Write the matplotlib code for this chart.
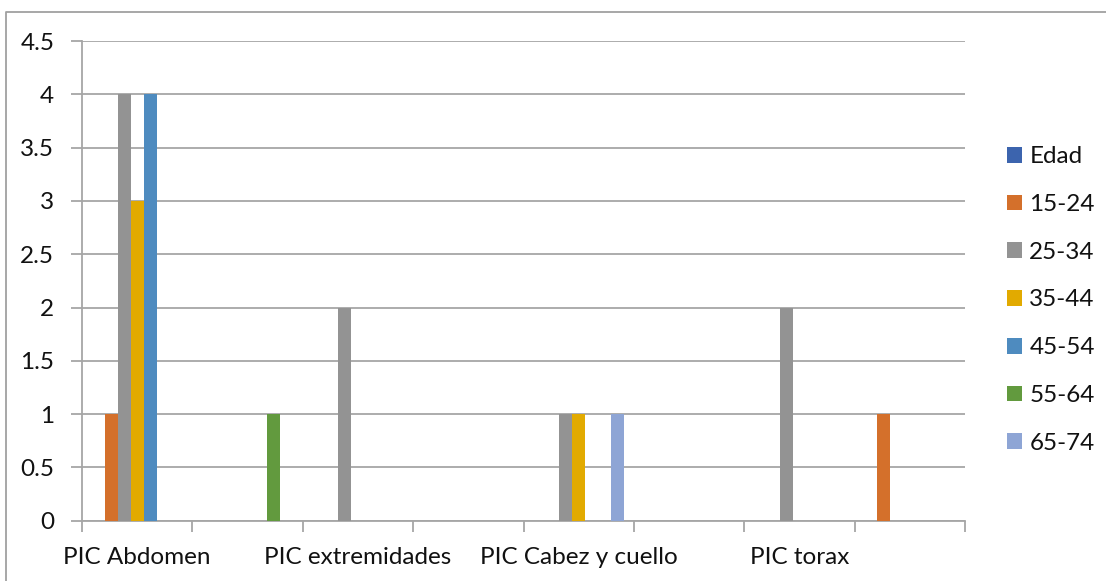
import matplotlib
matplotlib.use("Agg")
import matplotlib.pyplot as plt
from matplotlib.lines import Line2D
import numpy as np

# Categories along the x axis (unlabelled slots are shown blank)
categorias = ["PIC Abdomen", "", "PIC extremidades", "", "PIC Cabez y cuello", "", "PIC torax", ""]

# Series (age groups)
series = ["Edad", "15-24", "25-34", "35-44", "45-54", "55-64", "65-74"]
edad   = [0, 0, 0, 0, 0, 0, 0, 0]
g15_24 = [1, 0, 0, 0, 0, 0, 0, 1]
g25_34 = [4, 0, 2, 0, 1, 0, 2, 0]
g35_44 = [3, 0, 0, 0, 1, 0, 0, 0]
g45_54 = [4, 0, 0, 0, 0, 0, 0, 0]
g55_64 = [0, 1, 0, 0, 0, 0, 0, 0]
g65_74 = [0, 0, 0, 0, 1, 0, 0, 0]
valores = [edad, g15_24, g25_34, g35_44, g45_54, g55_64, g65_74]

colores = ["#3C64AE", "#D4702B", "#939393", "#E2AA00", "#4E8BBF", "#629A3E", "#8EA5D5"]

plt.rcParams["font.family"] = ["Lato", "DejaVu Sans"]
TXT = "#111111"
GRID = "#A6A6A6"
FS = 17.5

fig = plt.figure(figsize=(11.06, 5.81), dpi=100)
ax = fig.add_axes([82 / 1106, 1 - 520.7 / 581, (965 - 82) / 1106, (520.7 - 41) / 581])

n = len(series)
w = 1 / (n + 1.5)  # gap width 150 %
x = np.arange(len(categorias))
handles = []
for j, (nombre, vals, col) in enumerate(zip(series, valores, colores)):
    off = (j - (n - 1) / 2) * w
    ax.bar(x + off, vals, width=w, color=col, linewidth=0, zorder=3)
    handles.append(plt.Rectangle((0, 0), 1, 1, facecolor=col, edgecolor="none"))

ax.set_xlim(-0.5, len(categorias) - 0.5)
ax.set_ylim(0, 4.5)
yt = np.arange(0, 4.51, 0.5)
ax.set_yticks(yt)
ax.set_yticklabels([f"{v:g}" for v in yt])
ax.yaxis.grid(True, color=GRID, linewidth=1.3, zorder=0)
ax.set_axisbelow(True)

ax.set_xticks(x)
ax.set_xticklabels(categorias)
ax.set_xticks(np.arange(-0.5, len(categorias)), minor=True)
ax.tick_params(axis="x", which="major", length=0, pad=19, labelsize=FS, labelcolor=TXT)
ax.tick_params(axis="x", which="minor", length=8, width=1.3, color=GRID, direction="out")
ax.tick_params(axis="y", length=8, width=1.3, color=GRID, pad=12, labelsize=FS, labelcolor=TXT)

for s in ["top", "right"]:
    ax.spines[s].set_visible(False)
for s in ["left", "bottom"]:
    ax.spines[s].set_color(GRID)
    ax.spines[s].set_linewidth(1.3)

leg = fig.legend(handles, series, loc="center left",
                 bbox_to_anchor=(1007 / 1106, 1 - 300 / 581),
                 frameon=False, fontsize=FS, handlelength=0.62, handleheight=0.62,
                 handletextpad=0.3, labelspacing=1.10, borderpad=0, borderaxespad=0)
for t in leg.get_texts():
    t.set_color(TXT)

# chart-area border
fig.add_artist(Line2D([6 / 1106, 6 / 1106, 1], [0, 1 - 12 / 581, 1 - 12 / 581],
                      transform=fig.transFigure, color="#A0A0A0", linewidth=1.3))

fig.savefig("out.png", dpi=100, facecolor="white")
